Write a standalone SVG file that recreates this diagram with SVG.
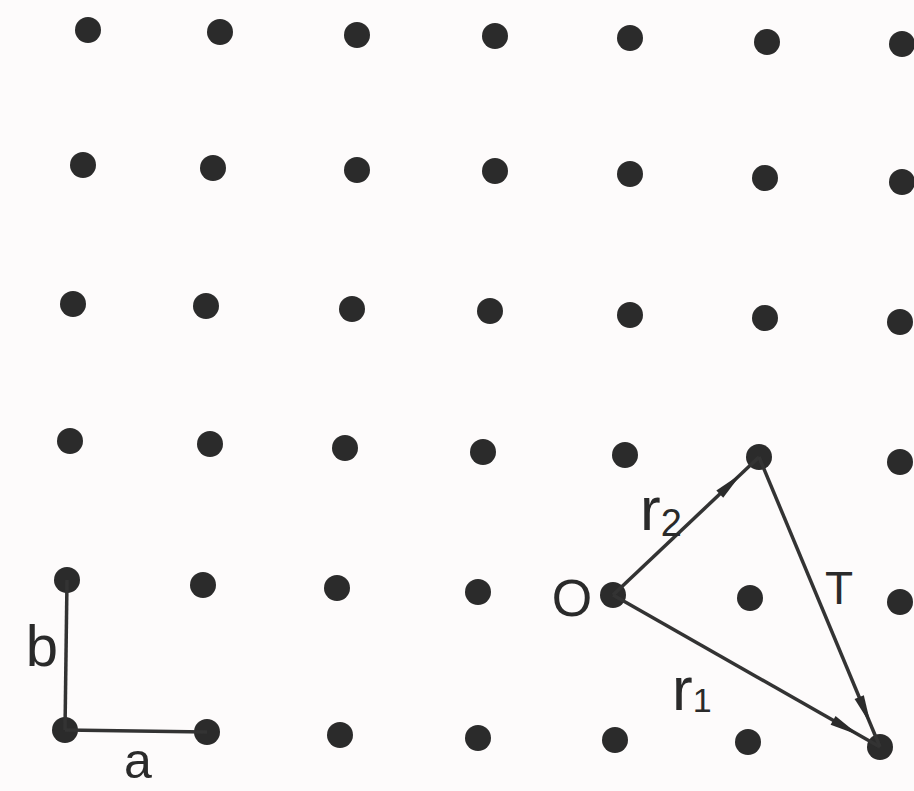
<svg xmlns="http://www.w3.org/2000/svg" width="914" height="791" viewBox="0 0 914 791">
  <defs>
    <style>
      .dot { fill: #2b2b2b; }
      .vec { stroke: #333333; stroke-width: 3.5; fill: none; }
      .lbl { font-family: "Liberation Sans", Arial, sans-serif; fill: #2a2a2a; }
    </style>
    <marker id="head" markerUnits="userSpaceOnUse" viewBox="0 0 30 10" markerWidth="30" markerHeight="10" refX="54" refY="5" orient="auto" overflow="visible">
      <path d="M0,0 L30,5 L0,10 z" fill="#2b2b2b"/>
    </marker>
  </defs>
  <rect x="0" y="0" width="914" height="791" fill="#fdfbfb"/>

  <g id="lattice">
    <g id="row1">
      <circle class="dot" cx="88" cy="30" r="13"/>
      <circle class="dot" cx="220" cy="32" r="13"/>
      <circle class="dot" cx="357" cy="35" r="13"/>
      <circle class="dot" cx="495" cy="36" r="13"/>
      <circle class="dot" cx="630" cy="38" r="13"/>
      <circle class="dot" cx="767" cy="42" r="13"/>
      <circle class="dot" cx="902" cy="44" r="13"/>
    </g>
    <g id="row2">
      <circle class="dot" cx="83" cy="165" r="13"/>
      <circle class="dot" cx="213" cy="168" r="13"/>
      <circle class="dot" cx="357" cy="170" r="13"/>
      <circle class="dot" cx="495" cy="171" r="13"/>
      <circle class="dot" cx="630" cy="174" r="13"/>
      <circle class="dot" cx="765" cy="178" r="13"/>
      <circle class="dot" cx="902" cy="182" r="13"/>
    </g>
    <g id="row3">
      <circle class="dot" cx="73" cy="304" r="13"/>
      <circle class="dot" cx="206" cy="306" r="13"/>
      <circle class="dot" cx="352" cy="309" r="13"/>
      <circle class="dot" cx="490" cy="311" r="13"/>
      <circle class="dot" cx="630" cy="315" r="13"/>
      <circle class="dot" cx="765" cy="318" r="13"/>
      <circle class="dot" cx="900" cy="322" r="13"/>
    </g>
    <g id="row4">
      <circle class="dot" cx="70" cy="441" r="13"/>
      <circle class="dot" cx="210" cy="444" r="13"/>
      <circle class="dot" cx="345" cy="448" r="13"/>
      <circle class="dot" cx="483" cy="452" r="13"/>
      <circle class="dot" cx="625" cy="455" r="13"/>
      <circle class="dot" cx="759" cy="457" r="13"/>
      <circle class="dot" cx="900" cy="462" r="13"/>
    </g>
    <g id="row5">
      <circle class="dot" cx="67" cy="580" r="13"/>
      <circle class="dot" cx="203" cy="585" r="13"/>
      <circle class="dot" cx="337" cy="588" r="13"/>
      <circle class="dot" cx="478" cy="592" r="13"/>
      <circle class="dot" cx="613" cy="595" r="13"/>
      <circle class="dot" cx="750" cy="598" r="13"/>
      <circle class="dot" cx="900" cy="602" r="13"/>
    </g>
    <g id="row6">
      <circle class="dot" cx="65" cy="730" r="13"/>
      <circle class="dot" cx="207" cy="732" r="13"/>
      <circle class="dot" cx="340" cy="735" r="13"/>
      <circle class="dot" cx="478" cy="738" r="13"/>
      <circle class="dot" cx="615" cy="740" r="13"/>
      <circle class="dot" cx="748" cy="742" r="13"/>
      <circle class="dot" cx="880" cy="747" r="13"/>
    </g>
  </g>

  <g id="connectors">
    <line id="vec-b" class="vec" x1="65" y1="730" x2="67" y2="580"/>
    <line id="vec-a" class="vec" x1="65" y1="730" x2="207" y2="732"/>
    <line id="vec-r2" class="vec" x1="613" y1="595" x2="759" y2="457" marker-end="url(#head)"/>
    <line id="vec-r1" class="vec" x1="613" y1="595" x2="880" y2="747" marker-end="url(#head)"/>
    <line id="vec-T" class="vec" x1="759" y1="457" x2="880" y2="747" marker-end="url(#head)"/>
  </g>

  <g id="labels">
    <text id="lbl-b" class="lbl" x="42" y="666" font-size="58" text-anchor="middle">b</text>
    <text id="lbl-a" class="lbl" x="138" y="778" font-size="50" text-anchor="middle">a</text>
    <text id="lbl-O" class="lbl" x="572" y="616" font-size="52" text-anchor="middle">O</text>
    <text id="lbl-r2" class="lbl" x="640" y="530" font-size="62">r<tspan font-size="38" dy="6">2</tspan></text>
    <text id="lbl-T" class="lbl" x="839" y="604" font-size="46" text-anchor="middle">T</text>
    <text id="lbl-r1" class="lbl" x="672" y="710" font-size="62">r<tspan font-size="34" dy="2">1</tspan></text>
  </g>
</svg>
